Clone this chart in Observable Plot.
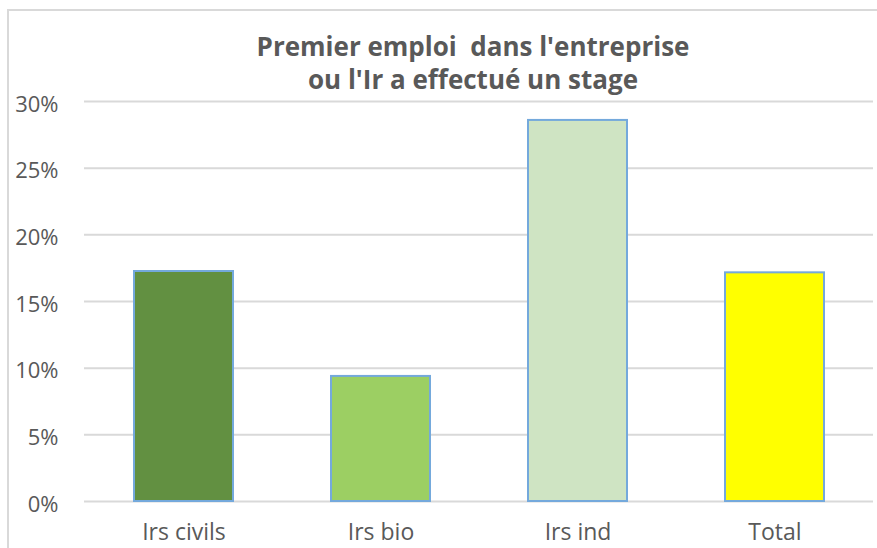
<!DOCTYPE html>
<html>
<head>
<meta charset="utf-8">
<script src="https://cdn.jsdelivr.net/npm/d3@7"></script>
<script src="https://cdn.jsdelivr.net/npm/@observablehq/plot@0.6"></script>
<style>
  html, body { margin: 0; padding: 0; background: #fff; }
  #wrap { position: relative; width: 877px; height: 548px; overflow: hidden; font-family: "Open Sans", sans-serif; }
  #frame { position: absolute; left: 7px; top: 9px; width: 880px; height: 600px; border-top: 2px solid #d9d9d9; border-left: 2px solid #d9d9d9; box-sizing: border-box; }
  #title { position: absolute; left: 223px; width: 500px; top: 30px; text-align: center; font-weight: 700; font-size: 26px; line-height: 33px; color: #595959; white-space: nowrap; }
  #chart { position: absolute; left: 0; top: 0; }
</style>
</head>
<body>
<div id="wrap">
  <div id="frame"></div>
  <div id="chart"></div>
  <div id="title">Premier emploi&nbsp; dans l'entreprise<br>ou l'Ir a effectué un stage</div>
</div>
<script>
const categories = ["Irs civils", "Irs bio", "Irs ind", "Total"];
const values = [0.1725, 0.0938, 0.2858, 0.1715];
const barColors = ["#629041", "#9ccf63", "#cfe4c3", "#ffff00"];
const yTicks = [0, 0.05, 0.10, 0.15, 0.20, 0.25, 0.30];

const data = categories.map((c, i) => ({category: c, value: values[i], color: barColors[i]}));

const chart = Plot.plot({
  width: 877,
  height: 548,
  marginLeft: 84,
  marginRight: 4,
  marginTop: 101,
  marginBottom: 47,
  style: {fontFamily: "Open Sans, sans-serif", fontSize: "22px", color: "#595959", background: "transparent"},
  x: {domain: categories, paddingInner: 0.5, paddingOuter: 0.25, label: null},
  y: {domain: [0, 0.30], label: null},
  marks: [
    Plot.ruleY(yTicks, {stroke: "#d9d9d9", strokeWidth: 2}),
    Plot.barY(data, {x: "category", y: "value", fill: "color", stroke: "#74a9dc", strokeWidth: 2}),
    Plot.axisY({ticks: yTicks, tickFormat: d3.format(".0%"), tickSize: 0, tickPadding: 26, dy: 3, label: null, fontSize: 22}),
    Plot.axisX({tickSize: 0, tickPadding: 22, label: null, fontSize: 23})
  ]
});
document.getElementById("chart").appendChild(chart);
</script>
</body>
</html>
